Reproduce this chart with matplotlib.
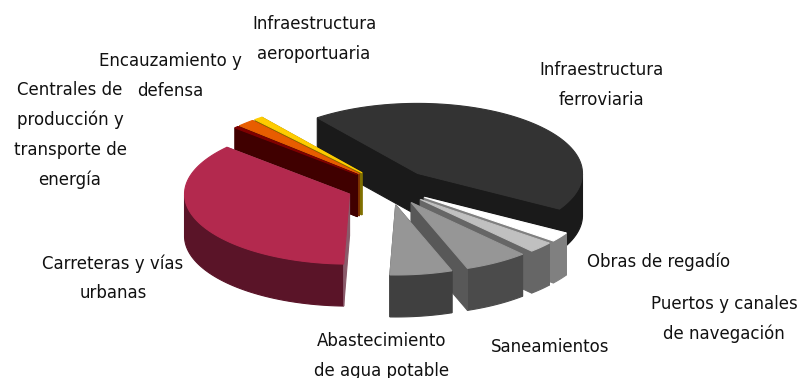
import numpy as np
import matplotlib
matplotlib.use('Agg')
import matplotlib.pyplot as plt

plt.rcParams['font.family'] = ['DejaVu Sans']

# datos (% de cada partida), en sentido horario desde Infraestructura ferroviaria
categorias = ['Infraestructura\nferroviaria', 'Obras de regadío',
              'Puertos y canales\nde navegación', 'Saneamientos',
              'Abastecimiento\nde agua potable', 'Carreteras y vías\nurbanas',
              'Centrales de\nproducción y\ntransporte de\nenergía',
              'Encauzamiento y\ndefensa', 'Infraestructura\naeroportuaria']
valores = [43.9, 2.2, 2.5, 6.25, 6.1, 36.1, 0.4, 1.7, 0.85]

color_top = ['#333333', '#ffffff', '#c0c0c0', '#969696', '#969696',
             '#b3294e', '#800000', '#e85d00', '#ffcc00']
color_side = ['#1a1a1a', '#808080', '#666666', '#4b4b4b', '#404040',
              '#5a1428', '#400000', '#7f3300', '#807000']
color_radial = ['#1a1a1a', '#808080', '#666666', '#585858', '#404040',
                '#8a5a6a', '#400000', '#7f3300', '#807000']

# posicion de cada etiqueta en pixeles
label_x = [601, 659, 724, 550, 382, 113, 70, 170, 314]
label_y = [85, 262, 319, 347, 356, 278, 135, 76, 39]

# geometria de la tarta 3D
cx, cy = 389, 187
rx, ry = 165, 70
depth = 42
explode = 0.26
start = 127.4
# orden de pintado: de atras hacia delante
orden = [0, 8, 7, 6, 1, 2, 3, 4, 5]

fig = plt.figure(figsize=(8.05, 3.78), dpi=100)
ax = fig.add_axes([0, 0, 1, 1])
ax.set_xlim(0, 805)
ax.set_ylim(378, 0)
ax.axis('off')

angulos = start - np.cumsum([0] + valores) * 3.6


def fill(xs, ys, color, z):
    ax.fill(xs, ys, color=color, lw=0.8, zorder=z)


for n, i in enumerate(orden):
    t1, t2 = angulos[i], angulos[i + 1]
    mid = np.radians((t1 + t2) / 2)
    tx = cx + explode * rx * np.cos(mid)
    ty = cy - explode * ry * np.sin(mid)
    t = np.radians(np.linspace(t1, t2, 80))
    ax_x = tx + rx * np.cos(t)
    ax_y = ty - ry * np.sin(t)
    z = n * 10

    # paredes radiales, primero las de atras
    for j, a in enumerate([t1, t2]):
        ca = np.cos(np.radians(a))
        front = ca < 0 if j == 0 else ca > 0
        px = tx + rx * ca
        py = ty - ry * np.sin(np.radians(a))
        fill([tx, px, px, tx], [ty, py, py + depth, ty + depth],
             color_radial[i], z + (2 if front else 0))

    # pared exterior, solo la parte delantera
    vis = np.sin(t) < 0
    if vis.any():
        xs = ax_x[vis]
        ys = ax_y[vis]
        fill(np.r_[xs, xs[::-1]], np.r_[ys, ys[::-1] + depth], color_side[i], z + 1)

    # cara superior
    fill(np.r_[tx, ax_x], np.r_[ty, ax_y], color_top[i], z + 3)

for c, x, y in zip(categorias, label_x, label_y):
    ax.text(x, y, c, ha='center', va='center', fontsize=12, linespacing=1.8,
            color='#111111', zorder=200)

fig.savefig('out.png', dpi=100)
